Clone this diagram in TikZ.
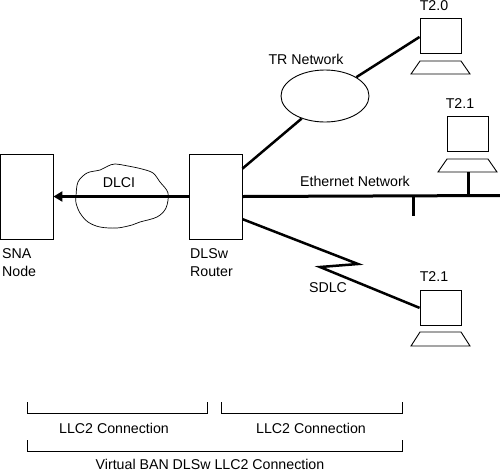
\documentclass[tikz,border=0pt]{standalone}
\usepackage{fontspec}
\setmainfont{Liberation Sans}
\usetikzlibrary{shapes.geometric,arrows.meta}
\tikzset{
  x=1pt,y=-1pt,
  boxnode/.style={draw,line width=.9pt,inner sep=0,minimum width=53pt,minimum height=85pt},
  screen/.style={draw,line width=.9pt,inner sep=0,minimum width=41pt,minimum height=35pt},
  lab/.style={font=\fontsize{14.2pt}{16pt}\selectfont,inner sep=0},
  thin line/.style={line width=.9pt},
  link/.style={line width=2.5pt},
  bus/.style={line width=3pt},
  bracket/.style={line width=.9pt},
}
\begin{document}
\begin{tikzpicture}
\useasboundingbox (0,0) rectangle (500,472);
\node[boxnode] (sna) at (26.5,196.5) {};
\node[boxnode] (router) at (215.5,196.5) {};
\node[screen] (t20) at (440.5,35.5) {};
\node[screen] (t21a) at (467.5,133.5) {};
\node[screen] (t21b) at (440.5,307.5) {};
\node[draw,ellipse,line width=.9pt,inner sep=0,minimum width=88pt,minimum height=52pt] (tr) at (325,96) {};
% cloud
\draw[line width=.7pt] plot[smooth cycle,tension=.55] coordinates {(76,196) (78,182) (87,173) (100,170) (108,166) (115,164) (128,166) (142,169) (153,173) (160,182) (168,193) (166,208) (157,217) (140,222) (132,225) (117,228) (100,227) (88,222) (80,213) (76,203)};
% terminal bases
\draw[thin line] (420,61) -- (461,61) -- (470,74) -- (411,74) -- cycle;
\draw[thin line] (447,159) -- (488,159) -- (497,172) -- (438,172) -- cycle;
\draw[thin line] (420,332) -- (461,332) -- (470,346) -- (411,346) -- cycle;
\coordinate (base21a) at (468,172);
\coordinate (ethend) at (500,195.5);
\coordinate (tap1) at (413,195.5);
\coordinate (tap1end) at (413,216);
\coordinate (tap2) at (468,195.5);
\coordinate (zigA) at (358,264);
\coordinate (zigB) at (320,267);
% connectors
\draw[line width=3pt,-{Triangle[length=9pt,width=10pt]}] (router.west) -- (sna.east);
\draw[link] (router.46) -- (tr.224);
\draw[link] (tr.31) -- (t20.184);
\draw[bus] (router.east) -- (ethend);
\draw[bus] (tap1) -- (tap1end);
\draw[bus] (base21a) -- (tap2);
\draw[link,line join=miter] (router.-40) -- (zigA) -- (zigB) -- (t21b.181);
% brackets
\draw[bracket] (27,402) -- (27,413) -- (207,413) -- (207,402);
\draw[bracket] (221,402) -- (221,413) -- (402,413) -- (402,402);
\draw[bracket] (27,440) -- (27,451) -- (402,451) -- (402,440);
% labels
\node[lab] (l1) at (119,183) {DLCI};
\node[lab,anchor=base west] (l2) at (2,258) {SNA};
\node[lab,anchor=base west] (l3) at (2,276) {Node};
\node[lab,anchor=base west] (l4) at (190,258) {DLSw};
\node[lab,anchor=base west] (l5) at (190,276) {Router};
\node[lab] (l6) at (306,59) {TR Network};
\node[lab] (l7) at (434,6) {T2.0};
\node[lab] (l8) at (460,104) {T2.1};
\node[lab] (l9) at (355,181) {Ethernet Network};
\node[lab] (l10) at (328,288) {SDLC};
\node[lab] (l11) at (434,277) {T2.1};
\node[lab] (l12) at (114,428) {LLC2 Connection};
\node[lab] (l13) at (311,428) {LLC2 Connection};
\node[lab] (l14) at (210,464.5) {Virtual BAN DLSw LLC2 Connection};
\end{tikzpicture}
\end{document}
